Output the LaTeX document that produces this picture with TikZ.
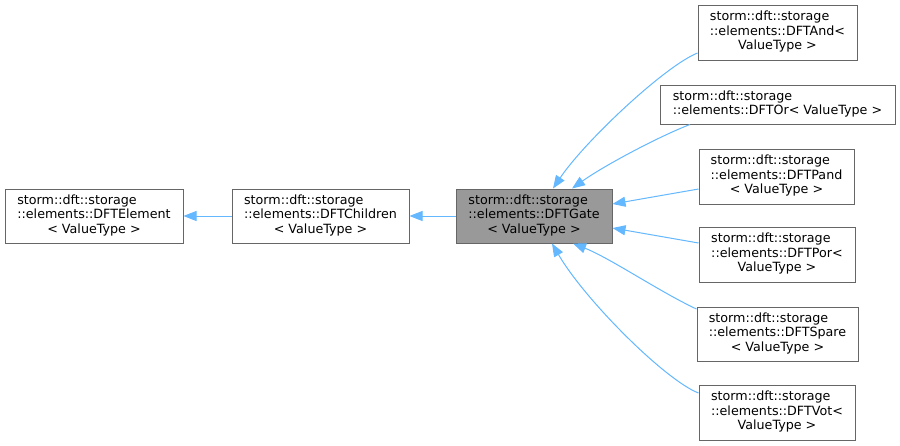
\documentclass[tikz,border=0pt]{standalone}
\usepackage{fontspec}
\setmainfont{DejaVu Sans}
\usetikzlibrary{arrows.meta,calc}
\definecolor{edgeblue}{HTML}{63B8FF}
\definecolor{boxline}{HTML}{666666}
\definecolor{gatefill}{HTML}{999999}
\newcommand{\threel}[3]{\begin{tabular}{@{}l@{}}#1\\#2\\\multicolumn{1}{@{}c@{}}{#3}\end{tabular}}
\newcommand{\twol}[2]{\begin{tabular}{@{}l@{}}#1\\\multicolumn{1}{@{}c@{}}{#2}\end{tabular}}
\tikzset{
  cls/.style={draw=boxline, line width=1pt, fill=white, inner sep=0pt,
    font=\fontsize{12.7}{14.5}\selectfont},
  gatebox/.style={cls, fill=gatefill},
  inh/.style={draw=edgeblue, line width=1pt, -{Triangle[length=13pt,width=10pt]}}
}
\begin{document}
\begin{tikzpicture}[x=1pt,y=-1pt]
\useasboundingbox[fill=white] (0,0) rectangle (900,445);
\node[cls, minimum width=178pt, minimum height=54pt] (elem) at (94,216)
  {\threel{storm::dft::storage}{::elements::DFTElement}{< ValueType >}};
\node[cls, minimum width=177pt, minimum height=54pt] (child) at (320.5,216)
  {\threel{storm::dft::storage}{::elements::DFTChildren}{< ValueType >}};
\node[gatebox, minimum width=156pt, minimum height=54pt] (gate) at (534,216)
  {\threel{storm::dft::storage}{::elements::DFTGate}{< ValueType >}};
\node[cls, minimum width=159pt, minimum height=55pt] (and) at (777.5,32.5)
  {\threel{storm::dft::storage}{::elements::DFTAnd<}{ValueType >}};
\node[cls, minimum width=235pt, minimum height=39pt] (or) at (777.5,104.5)
  {\twol{storm::dft::storage}{::elements::DFTOr< ValueType >}};
\node[cls, minimum width=155pt, minimum height=55pt] (pand) at (776.5,176.5)
  {\threel{storm::dft::storage}{::elements::DFTPand}{< ValueType >}};
\node[cls, minimum width=156pt, minimum height=55pt] (por) at (777,254.5)
  {\threel{storm::dft::storage}{::elements::DFTPor<}{ValueType >}};
\node[cls, minimum width=161pt, minimum height=54pt] (spare) at (777.5,334)
  {\threel{storm::dft::storage}{::elements::DFTSpare}{< ValueType >}};
\node[cls, minimum width=156pt, minimum height=55pt] (vot) at (777,412.5)
  {\threel{storm::dft::storage}{::elements::DFTVot<}{ValueType >}};

\draw[inh] (child.west) -- (elem.east);
\draw[inh] (gate.west) -- (child.east);
\draw[inh] ($(and.west)+(0,20.5)$) .. controls (665,66) and (585,141) .. ($(gate.north)+(19,0)$);
\draw[inh] ($(or.south)+(-87.5,0)$) .. controls (660,136) and (605,165) .. ($(gate.north)+(38,0)$);
\draw[inh] ($(pand.west)+(0,12.5)$) -- ($(gate.east)+(0,-12)$);
\draw[inh] ($(por.west)+(0,-11.5)$) -- ($(gate.east)+(0,12)$);
\draw[inh] ($(spare.west)+(0,-25)$) .. controls (660,292) and (610,258) .. ($(gate.south)+(39,0)$);
\draw[inh] ($(vot.west)+(0,-19.5)$) .. controls (665,380) and (585,300) .. ($(gate.south)+(18,0)$);
\end{tikzpicture}
\end{document}
